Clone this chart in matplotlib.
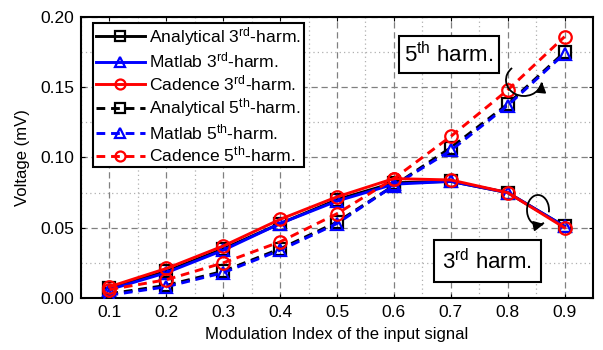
import matplotlib
matplotlib.use("Agg")
import matplotlib.pyplot as plt
from matplotlib.patches import Arc
from matplotlib.ticker import MultipleLocator, FormatStrFormatter

plt.rcParams['font.family'] = ['Liberation Sans', 'DejaVu Sans']
plt.rcParams['mathtext.fontset'] = 'custom'
plt.rcParams['mathtext.rm'] = 'Liberation Sans'
plt.rcParams['mathtext.it'] = 'Liberation Sans:italic'

mod_index = [0.1, 0.2, 0.3, 0.4, 0.5, 0.6, 0.7, 0.8, 0.9]

analytical_3rd = [0.007, 0.019, 0.035, 0.053, 0.070, 0.082, 0.083, 0.075, 0.051]
matlab_3rd     = [0.006, 0.018, 0.034, 0.053, 0.069, 0.081, 0.083, 0.075, 0.051]
cadence_3rd    = [0.008, 0.021, 0.037, 0.056, 0.072, 0.085, 0.084, 0.075, 0.050]

analytical_5th = [0.003, 0.009, 0.019, 0.035, 0.054, 0.080, 0.107, 0.138, 0.175]
matlab_5th     = [0.002, 0.008, 0.018, 0.034, 0.053, 0.080, 0.105, 0.137, 0.174]
cadence_5th    = [0.006, 0.013, 0.025, 0.040, 0.060, 0.085, 0.115, 0.148, 0.186]

labels = [r'Analytical 3$^{\mathrm{rd}}$-harm.', r'Matlab 3$^{\mathrm{rd}}$-harm.',
          r'Cadence 3$^{\mathrm{rd}}$-harm.', r'Analytical 5$^{\mathrm{th}}$-harm.',
          r'Matlab 5$^{\mathrm{th}}$-harm.', r'Cadence 5$^{\mathrm{th}}$-harm.']

W, H = 603, 350
fig = plt.figure(figsize=(W/100, H/100), dpi=100)
ax = fig.add_axes([81/W, 1-298/H, (593-81)/W, (298-17)/H])

lw = 2.1
ms = 9
mew = 1.6
dash = (0, (3, 2))
series = [
    (analytical_3rd, 'black', 's', '-'),
    (matlab_3rd, '#0000ff', '^', '-'),
    (cadence_3rd, '#ff0000', 'o', '-'),
    (analytical_5th, 'black', 's', dash),
    (matlab_5th, '#0000ff', '^', dash),
    (cadence_5th, '#ff0000', 'o', dash),
]
order = [0, 3, 1, 4, 2, 5]
handles = [None]*6
for i in order:
    y, c, m, ls = series[i]
    h, = ax.plot(mod_index, y, color=c, marker=m, linestyle=ls, lw=lw, ms=ms,
                 mfc='none', mec=c, mew=mew, zorder=3+i % 3)
    handles[i] = h

ax.set_xlim(0.05, 0.95)
ax.set_ylim(0, 0.20)
ax.set_xticks(mod_index)
ax.set_xticklabels([f'{v:.1f}' for v in mod_index])
ax.xaxis.set_minor_locator(MultipleLocator(0.05))
ax.yaxis.set_major_locator(MultipleLocator(0.05))
ax.yaxis.set_minor_locator(MultipleLocator(0.025))
ax.yaxis.set_major_formatter(FormatStrFormatter('%.2f'))
ax.grid(which='major', color='#808080', linestyle=(0, (5, 3)), lw=0.9)
ax.grid(which='minor', color='#b0b0b0', linestyle=(0, (1, 2.5)), lw=0.9)
ax.set_axisbelow(True)
ax.tick_params(which='both', direction='in', top=True, right=True, labelsize=12.5,
               length=3, width=0.8, pad=5)
ax.tick_params(which='minor', length=0)
for s in ax.spines.values():
    s.set_linewidth(1.5)

ax.set_xlabel('Modulation Index of the input signal', fontsize=12, labelpad=5)
ax.set_ylabel('Voltage (mV)', fontsize=12, labelpad=7)

leg = ax.legend(handles=handles, labels=labels, loc='upper left',
                bbox_to_anchor=(0.0235, 0.98), borderaxespad=0, fontsize=12.6,
                handlelength=2.8, handletextpad=0.25, labelspacing=0.16,
                markerscale=0.8, fancybox=False, framealpha=1, edgecolor='black',
                borderpad=0.15)
leg.get_frame().set_linewidth(1.5)
leg.set_zorder(10)

bbox5 = dict(boxstyle='square,pad=0.25', fc='white', ec='black', lw=1.5)
bbox3 = dict(boxstyle='square,pad=0.38', fc='white', ec='black', lw=1.5)
ax.text(0.6965, 0.1734, r'5$^{\mathrm{th}}$ harm.', fontsize=16, ha='center', va='center',
        bbox=bbox5, zorder=6)
ax.text(0.764, 0.0262, r'3$^{\mathrm{rd}}$ harm.', fontsize=16, ha='center', va='center',
        bbox=bbox3, zorder=6)

# curly arrows (figure-fraction coordinates from pixel positions)
def fx(px):
    return px / W

def fy(py):
    return 1 - py / H

arc5 = Arc((fx(524), fy(80)), 36/W, 32/H, theta1=120, theta2=345,
           transform=fig.transFigure, color='black', lw=1.3, zorder=7)
fig.add_artist(arc5)
ax.annotate('', xy=(fx(542), fy(82)), xytext=(fx(541.5), fy(87)),
            xycoords='figure fraction', textcoords='figure fraction',
            arrowprops=dict(arrowstyle='-|>,head_length=0.6,head_width=0.3', color='black', lw=1.3))

arc3 = Arc((fx(538), fy(210)), 22/W, 30/H, theta1=-20, theta2=285,
           transform=fig.transFigure, color='black', lw=1.3, zorder=7)
fig.add_artist(arc3)
ax.annotate('', xy=(fx(544), fy(224)), xytext=(fx(539), fy(225)),
            xycoords='figure fraction', textcoords='figure fraction',
            arrowprops=dict(arrowstyle='-|>,head_length=0.6,head_width=0.3', color='black', lw=1.3))

fig.savefig('out.png', dpi=100)
